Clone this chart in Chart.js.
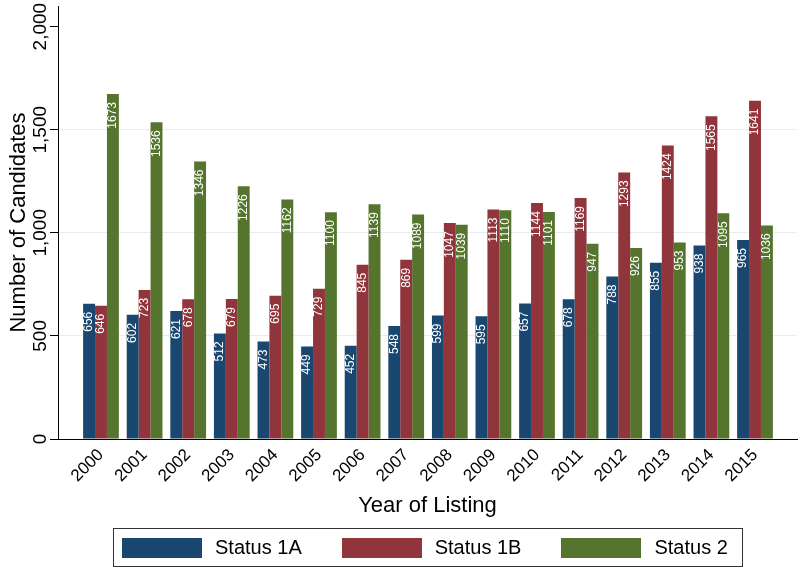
<!DOCTYPE html>
<html>
<head>
<meta charset="utf-8">
<script src="https://cdn.jsdelivr.net/npm/chart.js@4"></script>
<style>
  body { margin: 0; background: #fff; font-family: 'Liberation Sans', Arial, sans-serif; }
  #wrap { position: relative; width: 800px; height: 569px; }
  #legend {
    position: absolute; left: 113px; top: 528px; width: 630px; height: 39px;
    border: 1px solid #333; box-sizing: border-box;
    display: flex; align-items: center; padding-left: 8px;
  }
  .item { display: flex; align-items: center; margin-right: 40px; flex-shrink: 0; white-space: nowrap; }
  .swatch { width: 80px; height: 20px; margin-right: 13px; flex-shrink: 0; }
  .lbl { font-size: 20px; color: #000; white-space: nowrap; }
</style>
</head>
<body>
<div id="wrap">
  <canvas id="chart" width="800" height="569"></canvas>
  <div id="legend"></div>
</div>
<script>
const years = [2000, 2001, 2002, 2003, 2004, 2005, 2006, 2007, 2008, 2009, 2010, 2011, 2012, 2013, 2014, 2015];
const status1A = [656, 602, 621, 512, 473, 449, 452, 548, 599, 595, 657, 678, 788, 855, 938, 965];
const status1B = [646, 723, 678, 679, 695, 729, 845, 869, 1047, 1113, 1144, 1169, 1293, 1424, 1565, 1641];
const status2 = [1673, 1536, 1346, 1226, 1162, 1100, 1139, 1089, 1039, 1110, 1101, 947, 926, 953, 1095, 1036];
const yTicks = [0, 500, 1000, 1500, 2000];

Chart.defaults.font.family = "'Liberation Sans', Arial, sans-serif";
Chart.defaults.color = "#000";

const series = [
  { label: "Status 1A", values: status1A, color: "#1a476f" },
  { label: "Status 1B", values: status1B, color: "#90353b" },
  { label: "Status 2", values: status2, color: "#55752f" },
];

// white value labels, rotated, inside the top of each bar
const barLabels = {
  id: "barLabels",
  afterDatasetsDraw(chart) {
    const ctx = chart.ctx;
    chart.data.datasets.forEach((ds, i) => {
      const meta = chart.getDatasetMeta(i);
      meta.data.forEach((bar, j) => {
        ctx.save();
        ctx.translate(bar.x, bar.y + 8);
        ctx.rotate(-Math.PI / 2);
        ctx.textAlign = "right";
        ctx.textBaseline = "middle";
        ctx.fillStyle = "#fff";
        ctx.font = "12px 'Liberation Sans', Arial, sans-serif";
        ctx.fillText(String(ds.data[j].y), 0, 0);
        ctx.restore();
      });
    });
  }
};

new Chart(document.getElementById("chart"), {
  type: "bar",
  data: {
    datasets: series.map((s) => ({
      label: s.label,
      data: years.map((yr, i) => ({ x: yr, y: s.values[i] })),
      backgroundColor: s.color,
      borderWidth: 0,
    })),
  },
  options: {
    responsive: false,
    animation: false,
    layout: { padding: { top: 6, right: 3, bottom: 50, left: 0 } },
    datasets: { bar: { categoryPercentage: 0.82, barPercentage: 1 } },
    plugins: { legend: { display: false }, tooltip: { enabled: false } },
    scales: {
      x: {
        type: "linear",
        min: 1999.014,
        max: 2015.963,
        offset: false,
        afterBuildTicks: (s) => { s.ticks = years.map((v) => ({ value: v })); },
        afterFit: (s) => { s.height = 80; },
        grid: { drawOnChartArea: false, drawTicks: false },
        border: { color: "#000", width: 1 },
        ticks: {
          minRotation: 45, maxRotation: 45, autoSkip: false, padding: 6,
          font: { size: 17 },
          callback: (v) => String(v),
        },
        title: { display: true, text: "Year of Listing", font: { size: 22 }, padding: 0 },
      },
      y: {
        min: 0,
        max: 2100,
        afterBuildTicks: (s) => { s.ticks = yTicks.map((v) => ({ value: v })); },
        afterFit: (s) => { s.width = 58; },
        grid: {
          color: (c) => (c.tick && (c.tick.value === 0 || c.tick.value === 2000) ? "rgba(0,0,0,0)" : "#e4edef"),
          tickColor: "#000",
          tickLength: 8,
        },
        border: { color: "#000", width: 1 },
        ticks: { minRotation: 90, maxRotation: 90, crossAlign: "center", padding: -15, font: { size: 19 } },
        title: { display: true, text: "Number of Candidates", font: { size: 22 }, padding: { top: 6, bottom: 0 } },
      },
    },
  },
  plugins: [barLabels],
});

// legend box below the plot
const legend = document.getElementById("legend");
series.forEach((s) => {
  const item = document.createElement("div");
  item.className = "item";
  const sw = document.createElement("span");
  sw.className = "swatch";
  sw.style.background = s.color;
  const txt = document.createElement("span");
  txt.className = "lbl";
  txt.textContent = s.label;
  item.appendChild(sw);
  item.appendChild(txt);
  legend.appendChild(item);
});
</script>
</body>
</html>
